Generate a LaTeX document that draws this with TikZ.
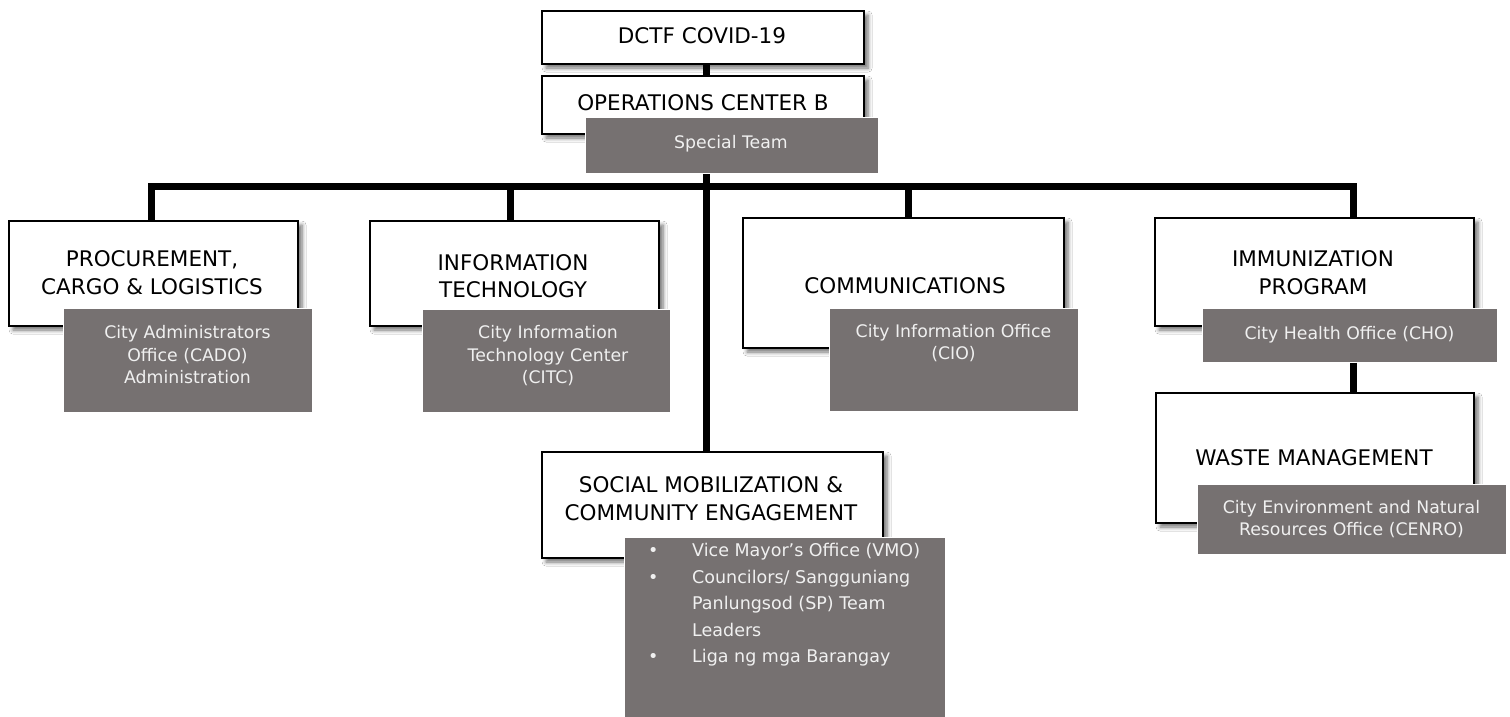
\documentclass[tikz,border=0pt]{standalone}
\usepackage{fontspec}
\setmainfont{DejaVu Sans}
\usetikzlibrary{shadows.blur}
\definecolor{boxgray}{RGB}{118,113,113}
\definecolor{lighttext}{RGB}{240,240,240}
\tikzset{
  wbox/.style={draw=black, line width=2.2pt, fill=white, anchor=north west, inner sep=0pt,
    blur shadow={shadow xshift=4pt, shadow yshift=-4pt, shadow blur steps=6, shadow blur radius=4pt, shadow opacity=55}},
  gbox/.style={draw=white, line width=0.8pt, fill=boxgray, anchor=north west, inner sep=0pt},
  btext/.style={align=center, inner sep=0pt, font=\fontsize{21.5}{27.5}\selectfont, text=black},
  gtext/.style={align=center, inner sep=0pt, font=\fontsize{17.3}{22.5}\selectfont, text=lighttext},
  conn/.style={draw=black, line width=7pt}
}
\begin{document}
\begin{tikzpicture}[x=1pt, y=-1pt]
\useasboundingbox[fill=white] (0,0) rectangle (1510,717);
% coordinates for connector lines
\coordinate (cx) at (706,0);
\coordinate (busL) at (151,186.5);
\coordinate (busIT) at (510,186.5);
\coordinate (busC) at (706,186.5);
\coordinate (busCom) at (908,186.5);
\coordinate (busR) at (1353,186.5);

% white boxes
\node[wbox, minimum width=322pt, minimum height=53pt] (dctf) at (541,10) {};
\node[wbox, minimum width=322pt, minimum height=58pt] (ops) at (541,75) {};
\node[wbox, minimum width=289pt, minimum height=105pt] (proc) at (8,220) {};
\node[wbox, minimum width=289pt, minimum height=105pt] (it) at (369,220) {};
\node[wbox, minimum width=321pt, minimum height=130pt] (comm) at (742,217) {};
\node[wbox, minimum width=319pt, minimum height=108pt] (imm) at (1154,217) {};
\node[wbox, minimum width=318pt, minimum height=130pt] (waste) at (1155,392) {};
\node[wbox, minimum width=341pt, minimum height=106pt] (social) at (541,451) {};

% connectors
\draw[conn] (dctf.south -| cx) -- (ops.north -| cx);
\draw[conn] (busL |- proc.north) -- (busL) -- (busR) -- (busR |- imm.north);
\draw[conn] (busIT) -- (busIT |- it.north);
\draw[conn] (busCom) -- (busCom |- comm.north);
\draw[conn] (busC |- ops.south) -- (social.north -| cx);

% gray boxes
\node[gbox, minimum width=293pt, minimum height=56pt] (special) at (585,117) {};
\node[gbox, minimum width=249pt, minimum height=104pt] (cado) at (63,308) {};
\node[gbox, minimum width=248pt, minimum height=103pt] (citc) at (422,309) {};
\node[gbox, minimum width=249pt, minimum height=103pt] (cio) at (829,308) {};
\node[gbox, minimum width=295pt, minimum height=54pt] (cho) at (1202,308) {};
\node[gbox, minimum width=309pt, minimum height=70pt] (cenro) at (1197,484) {};
\node[gbox, minimum width=321pt, minimum height=181pt] (smg) at (624,537) {};

\draw[conn] (cho.south -| busR) -- (waste.north -| busR);

% black texts
\node[btext] (tdctf) at (702,36) {DCTF COVID-19};
\node[btext] (tops) at (703,103) {OPERATIONS CENTER B};
\node[btext] (tproc) at (152,272.5) {PROCUREMENT,\\CARGO \& LOGISTICS};
\node[btext] (tit) at (513,276) {INFORMATION\\TECHNOLOGY};
\node[btext] (tcomm) at (905,286) {COMMUNICATIONS};
\node[btext] (timm) at (1313,272.5) {IMMUNIZATION\\PROGRAM};
\node[btext] (twaste) at (1314,458) {WASTE MANAGEMENT};
\node[btext] (tsocial) at (711,498.5) {SOCIAL MOBILIZATION \&\\COMMUNITY ENGAGEMENT};

% gray texts
\node[gtext] (tspecial) at (731,144) {Special Team};
\node[gtext] (tcado) at (187.5,355) {City Administrators\\Office (CADO)\\Administration};
\node[gtext] (tcitc) at (548,356) {City Information\\Technology Center\\(CITC)};
\node[gtext] (tcio) at (953.5,343) {City Information Office\\(CIO)};
\node[gtext] (tcho) at (1349.5,335) {City Health Office (CHO)};
\node[gtext] (tcenro) at (1351.5,519) {City Environment and Natural\\Resources Office (CENRO)};
\node[align=left, inner sep=0pt, anchor=north west, text=lighttext,
      font=\fontsize{17.5}{26.5}\selectfont] (tsmg) at (648,543)
  {\makebox[44pt][l]{•}Vice Mayor’s Office (VMO)\\
   \makebox[44pt][l]{•}Councilors/ Sangguniang\\
   \hspace*{44pt}Panlungsod (SP) Team\\
   \hspace*{44pt}Leaders\\
   \makebox[44pt][l]{•}Liga ng mga Barangay};
\end{tikzpicture}
\end{document}
